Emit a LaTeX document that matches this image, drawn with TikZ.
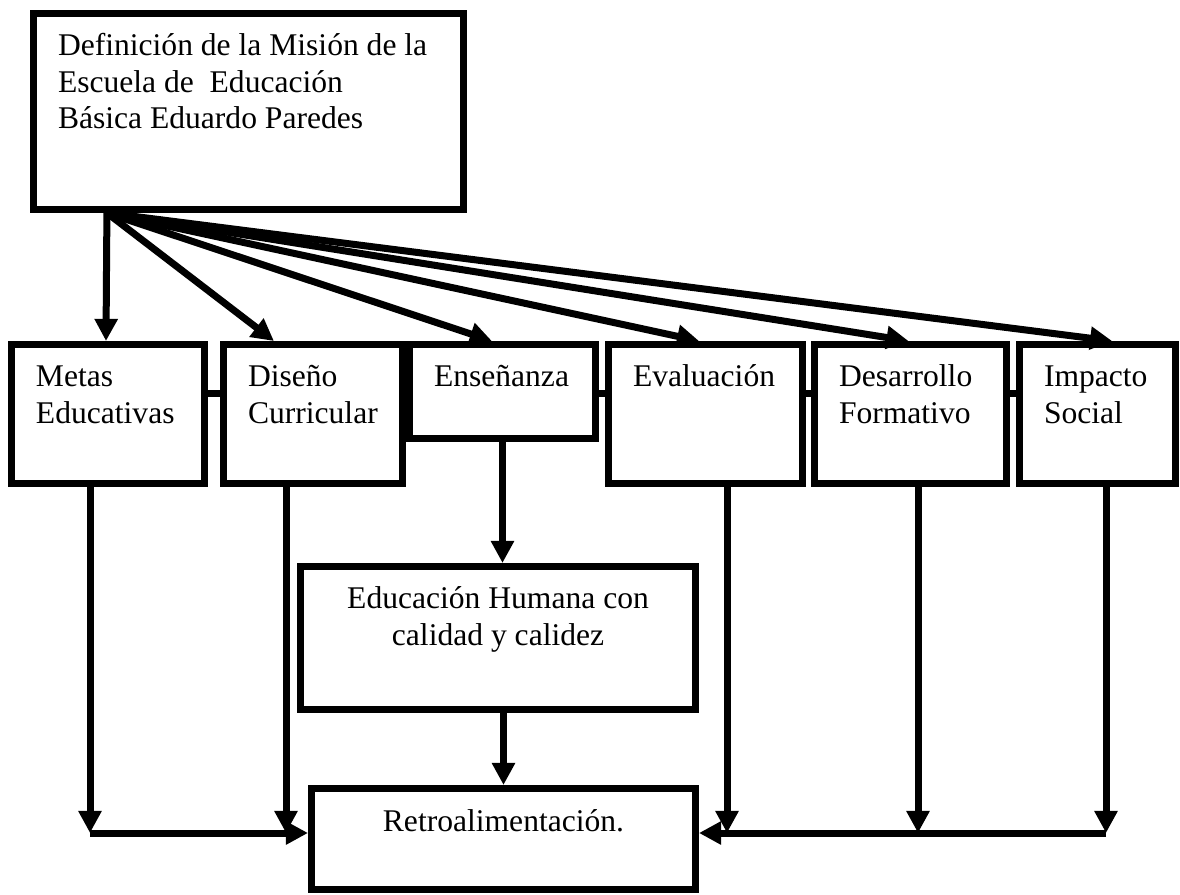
\documentclass[tikz,border=0pt]{standalone}
\usepackage{fontspec}
\setmainfont{Liberation Serif}
\usepackage{tikz}
\usetikzlibrary{arrows.meta,calc,backgrounds}

\tikzset{
  caja/.style={draw, rectangle, black, fill=white, line width=2.66pt, inner xsep=9.31pt, inner ysep=0pt, anchor=north west, text height=16.15pt, font=\fontsize{12pt}{13.8pt}\selectfont},
  flecha/.style={black, line width=2.66pt, -{Triangle[length=8.4pt,width=8.4pt]}},
  enlace/.style={black, line width=2.66pt}
}

\begin{document}
\begin{tikzpicture}[x=0.38pt, y=-0.38pt]
\useasboundingbox (0,0) rectangle (1180,895);
% mision y ejes
\node[caja, text width=144.8pt, text depth=58.3pt, align=flush left] (mision) at (30,10) {Definición de la Misión de la\\ Escuela de~~Educación\\ Básica Eduardo Paredes};
\node[caja, text width=54.72pt, text depth=36.67pt, align=flush left] (metas) at (8,341) {Metas\\ Educativas};
\node[caja, text width=49.4pt, text depth=36.67pt, align=flush left] (diseno) at (220,341) {Diseño\\ Curricular};
\node[caja, text width=52.06pt, text depth=19.57pt, align=flush left] (ensenanza) at (406,341) {Enseñanza};
\node[caja, text width=55.1pt, text depth=36.67pt, align=flush left] (evaluacion) at (605,341) {Evaluación};
\node[caja, text width=54.34pt, text depth=36.67pt, align=flush left] (desarrollo) at (811,341) {Desarrollo\\ Formativo};
\node[caja, text width=40.66pt, text depth=36.67pt, align=flush left] (impacto) at (1016,341) {Impacto\\ Social};
\node[caja, text width=131.5pt, text depth=38.19pt, align=flush center] (humana) at (297,563) {Educación Humana con\\ calidad y calidez};
\node[caja, text width=127.3pt, text depth=22.23pt, align=flush center] (retro) at (308,785) {Retroalimentación.};
% barra entre los ejes
\coordinate (barra) at (0,394);
\begin{scope}[on background layer]
  \draw[enlace] (metas.east |- barra) -- (impacto.west |- barra);
\end{scope}
% flechas desde la mision
\coordinate (src) at ($(mision.south west)!0.176!(mision.south east)$);
\foreach \n/\f in {metas/0.49, diseno/0.29, ensenanza/0.445, evaluacion/0.468, desarrollo/0.49, impacto/0.59}
  \draw[flecha] (src) -- ($(\n.north west)!\f!(\n.north east)$);
% retroalimentacion
\coordinate (m1) at (90,833);
\coordinate (d1) at (286,833);
\coordinate (e1) at (727,833);
\coordinate (f1) at (918,833);
\coordinate (i1) at (1106,833);
\foreach \n/\c in {metas/m1, diseno/d1, evaluacion/e1, desarrollo/f1, impacto/i1}
  \draw[flecha] (\n.south -| \c) -- (\c);
\draw[flecha] (m1) -- (m1 -| retro.west);
\draw[flecha] (i1) -- (i1 -| retro.east);
\draw[flecha] (ensenanza.south) -- (ensenanza.south |- humana.north);
\draw[flecha] (humana.south -| retro.north) -- (retro.north);
\end{tikzpicture}
\end{document}
